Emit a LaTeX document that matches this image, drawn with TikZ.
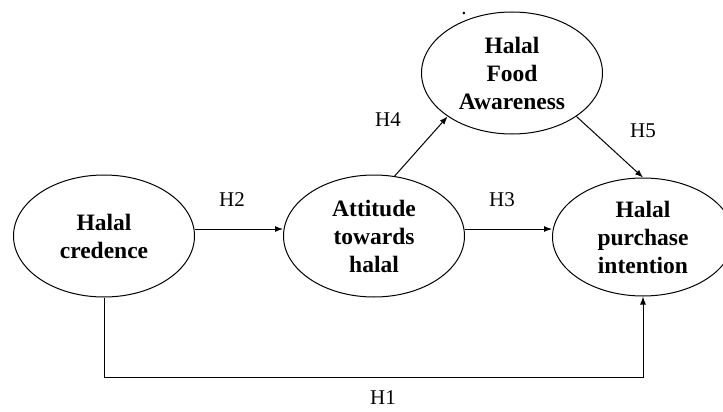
\documentclass[tikz,border=0pt]{standalone}
\usepackage{fontspec}
\setmainfont{Liberation Serif}
\usetikzlibrary{shapes.geometric,arrows.meta}
\begin{document}
\begin{tikzpicture}[x=1pt,y=-1pt,
  var/.style={draw, ellipse, line width=1pt, inner sep=0pt, minimum width=181pt, minimum height=122pt, align=center, font=\fontsize{23.5}{28}\selectfont\bfseries},
  lab/.style={font=\fontsize{21}{25}\selectfont, inner sep=0pt},
  arr/.style={line width=1pt, -{Latex[length=8pt,width=6pt]}}]
\useasboundingbox (0,0) rectangle (723,412);
\clip (0,0) rectangle (723,412);
\node[var] (cred) at (104,236) {Halal\\credence};
\node[var] (att) at (374,236) {Attitude\\towards\\halal};
\node[var] (aware) at (512,73) {Halal\\Food\\Awareness};
\node[var, minimum height=118pt] (pur) at (643,237) {Halal\\purchase\\intention};
\coordinate (bot) at (0,377);
\draw[arr] ([yshift=7pt]cred.east) -- ([yshift=7pt]att.west);
\draw[arr] ([yshift=7pt]att.east) -- ([yshift=8pt]pur.west);
\draw[arr] (att.71) -- (aware.214);
\draw[arr] (aware.326) -- (pur.north);
\draw[arr] (cred.south) -- (cred.south |- bot) -| (pur.south);
\node[lab] (h2) at (232,200) {H2};
\node[lab] (h3) at (502,200) {H3};
\node[lab] (h4) at (388,120) {H4};
\node[lab] (h5) at (643,131) {H5};
\node[lab] (h1) at (383,398) {H1};
\node[lab, anchor=base] (dot) at (464,15) {.};
\end{tikzpicture}
\end{document}
